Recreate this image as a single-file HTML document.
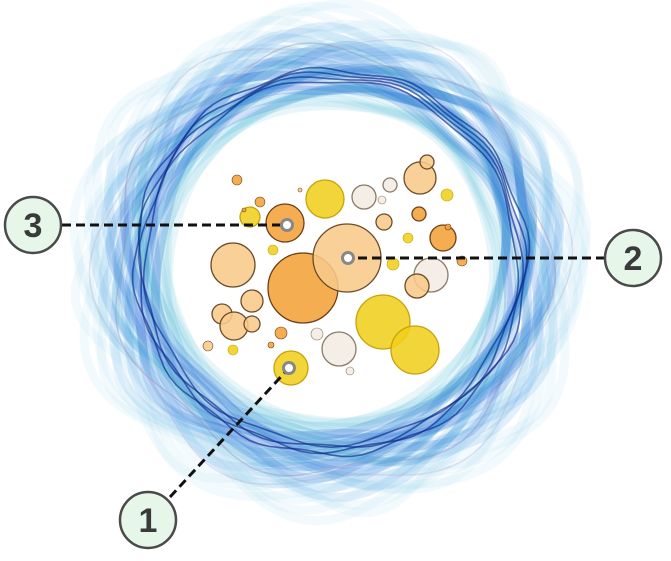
<!DOCTYPE html>
<html><head><meta charset="utf-8"><style>
html,body{margin:0;padding:0;background:#fff;width:671px;height:561px;overflow:hidden}
svg{display:block}
</style></head><body>
<svg id="chart" width="671" height="561" viewBox="0 0 671 561" xmlns="http://www.w3.org/2000/svg">
<g id="rings"></g>
<g id="bubbles"></g>
<g id="callouts"></g>
</svg>
<script>
// bubble data: x, y, radius, type
const bubbleX = [303,347,285,233,325,383,415,339,291,420,427,431,417,443,364,390,384,419,252,222,234,252,250,447,393,408,273,233,237,260,281,208,462,271,317,382,350,448,244,300];
const bubbleY = [288,258,223,265,199,322,350,349,368,178,162,275,286,238,197,185,222,214,301,314,326,324,217,195,264,238,250,350,180,202,333,346,261,345,334,200,371,227,210,190];
const bubbleR = [35,34,19,22,19,27,24,17,17,16,7,17,12,13,12,7,8,7,11,10,14,8,10,6,6,5,5,5,5,5,6,5,5,3,6,4,4,3,2,2];
const bubbleT = ['o','c','o','c','y','y','y','w','y','c','c','w','c','o','w','w','c','o','c','c','c','c','y','y','y','y','y','y','o','o','o','c','o','o','w','w','w','o','o','c'];
const fills = {o:'#f4a23a', c:'#f8c98a', y:'#f0cf1c', w:'#f2ece3'};
const strokes = {o:'#6a4018', c:'#6a4a28', y:'#c9a10a', w:'#8a7a68'};
const NS='http://www.w3.org/2000/svg';

const rg=document.getElementById('rings');
const cx=331, cy=262;
const ringDefs=[];
for(let k=0;k<34;k++){
  const R=162+k*2.6;
  const A=2+(R-160)*0.17;
  let col,op;
  if(R<175){col='#4ab8dc';op=0.13;}
  else if(R<212){col=(k%3==0)?'#1aa0c8':'#1e6ad8';op=0.2;}
  else if(R<228){col='#3a98e0';op=0.14;}
  else {col='#8ccbee';op=0.1;}
  ringDefs.push({R, A, n:5+(k%4), ph:k*0.7, col, w:9, op});
}
for(let k=0;k<4;k++) ringDefs.push({R:186+k*3.5,A:3,n:9+k,ph:k,col:'#0b2a8a',w:1.6,op:0.65});
ringDefs.push({R:216,A:9,n:7,ph:1,col:'#9a8fb8',w:1.5,op:0.4});
ringDefs.push({R:230,A:12,n:6,ph:2,col:'#b0a8cc',w:1.5,op:0.3});
ringDefs.forEach((d,i)=>{
  let s='';
  for(let t=0;t<=360;t+=3){
    const a=t*Math.PI/180;
    const r=d.R+d.A*Math.sin(d.n*a+d.ph);
    s+=(t?'L':'M')+(cx+r*Math.cos(a)).toFixed(1)+' '+(cy+r*Math.sin(a)*0.98).toFixed(1);
  }
  const p=document.createElementNS(NS,'path');
  p.setAttribute('d',s+'Z');p.setAttribute('fill','none');
  p.setAttribute('stroke',d.col);p.setAttribute('stroke-width',d.w);p.setAttribute('stroke-opacity',d.op);
  
  
  rg.appendChild(p);
});

const bg=document.getElementById('bubbles');
bubbleX.forEach((x,i)=>{
  const c=document.createElementNS(NS,'circle');
  c.setAttribute('cx',x);c.setAttribute('cy',bubbleY[i]);c.setAttribute('r',bubbleR[i]);
  c.setAttribute('fill',fills[bubbleT[i]]);c.setAttribute('fill-opacity',0.88);
  c.setAttribute('stroke',strokes[bubbleT[i]]);c.setAttribute('stroke-width',bubbleR[i]>6?1.3:0.6);
  
  
  bg.appendChild(c);
});

const labels=['1','2','3'];
const lx1=[170,605,62], ly1=[497,258,225], lx2=[289,348,287], ly2=[368,258,225];
const bx=[148,633,33], by=[520,258,225];
const cg=document.getElementById('callouts');
labels.forEach((l,i)=>{
  const ln=document.createElementNS(NS,'line');
  ln.setAttribute('x1',lx1[i]);ln.setAttribute('y1',ly1[i]);ln.setAttribute('x2',lx2[i]);ln.setAttribute('y2',ly2[i]);
  ln.setAttribute('stroke','#111');ln.setAttribute('stroke-width',3);ln.setAttribute('stroke-dasharray','9 5');
  
  
  cg.appendChild(ln);
  const m=document.createElementNS(NS,'circle');
  m.setAttribute('cx',lx2[i]);m.setAttribute('cy',ly2[i]);m.setAttribute('r',5.5);
  m.setAttribute('fill','#fff');m.setAttribute('stroke','#888');m.setAttribute('stroke-width',3);
  
  
  cg.appendChild(m);
  const b=document.createElementNS(NS,'circle');
  b.setAttribute('cx',bx[i]);b.setAttribute('cy',by[i]);b.setAttribute('r',28);
  b.setAttribute('fill','#e6f7ea');b.setAttribute('stroke','#4a4a4a');b.setAttribute('stroke-width',2.5);
  
  
  cg.appendChild(b);
  const t=document.createElementNS(NS,'text');
  t.setAttribute('x',bx[i]);t.setAttribute('y',by[i]+12);t.setAttribute('text-anchor','middle');
  t.setAttribute('font-family','Liberation Sans, sans-serif');t.setAttribute('font-size','34');t.setAttribute('font-weight','bold');
  t.setAttribute('fill','#3a3a3a');t.textContent=l;
  
  
  cg.appendChild(t);
});
</script>
</body></html>
